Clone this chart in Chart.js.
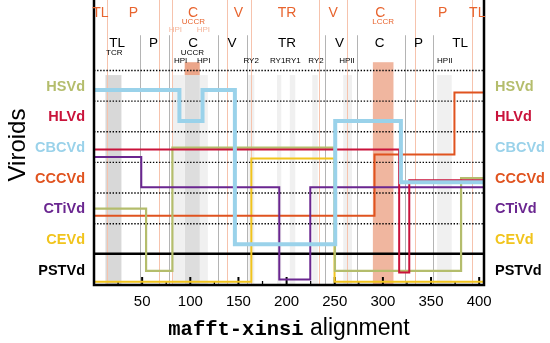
<!DOCTYPE html>
<html>
<head>
<meta charset="utf-8">
<script src="https://cdn.jsdelivr.net/npm/chart.js@4.4.0/dist/chart.umd.min.js"></script>
<style>
  html, body { margin: 0; padding: 0; background: #fff; }
</style>
</head>
<body>
<canvas id="chart" width="550" height="343"></canvas>
<script>
// rows, bottom to top
const viroids = ['PSTVd', 'CEVd', 'CTiVd', 'CCCVd', 'CBCVd', 'HLVd', 'HSVd'];
const viroidColors = {
  PSTVd: '#000000',
  CEVd: '#f1c41d',
  CTiVd: '#6a2690',
  CCCVd: '#e0531f',
  CBCVd: '#9ad2ea',
  HLVd: '#c9133b',
  HSVd: '#b4bd6c'
};

// step lines: breakpoints along the alignment, and the level held between them
const hsvdX = [0, 54.1, 81.4, 250.2, 381.2, 405];
const hsvdY = [1.99, -0.04, 3.98, -0.04, 2.99];
const hlvdX = [0, 316.9, 327.4, 405];
const hlvdY = [3.92, -0.09, 2.92];
const cbcvdX = [0, 88.7, 112.7, 146.3, 250.5, 318.7, 405];
const cbcvdY = [5.86, 4.85, 5.86, 0.83, 4.85, 2.85];
const cccvdX = [0, 291.3, 374.3, 405];
const cccvdY = [1.76, 3.76, 5.78];
const ctivdX = [0, 49.1, 192.4, 224.6, 405];
const ctivdY = [3.68, 2.69, -0.32, 2.69];
const cevdX = [0, 163.4, 249.8, 405];
const cevdY = [-0.39, 3.63, -0.39];
const pstvdX = [0, 405];
const pstvdY = [0.52];

const xTicks = [50, 100, 150, 200, 250, 300, 350, 400];
const xMinorTicks = [25, 75, 125, 175, 225, 275, 325, 375];

// region annotations above the rows
const outerRegions = ['TL', 'P', 'C', 'V', 'TR', 'V', 'C', 'P', 'TL'];
const outerRegionX = [6.7, 41, 102.9, 149.9, 200.4, 248.4, 297.2, 362.2, 398];
const outerBounds = [13.7, 67.9, 80.5, 138.2, 163.4, 233.2, 262.7, 333.5, 392.3];
const innerRegions = ['TL', 'P', 'C', 'V', 'TR', 'V', 'C', 'P', 'TL'];
const innerRegionX = [24.1, 61.7, 102.9, 143.4, 200.4, 255, 296.5, 337, 380.2];
const innerBounds = [47.5, 78.3, 128.6, 158.9, 239.4, 273, 323.1, 352.5];
const motifNames = ['TCR', 'UCCR', 'HPI', 'HPI', 'RY2', 'RY1RY1', 'RY2', 'HPII', 'HPII'];
const motifX = [21, 102.2, 90, 113.9, 163.2, 198.7, 230.6, 262.7, 364.3];
const outerMotifNames = ['UCCR', 'LCCR'];
const outerMotifX = [103.2, 300.3];
const paleMotifX = [84.5, 113.6];

// shaded motif spans
const tcrBand = [11.9, 28.5];
const uccrBand = [94.2, 109.8];
const lccrBand = [289.6, 311];
const paleBands = [[81.4, 93.9], [109.4, 118.2], [160.3, 166.5], [190, 194.5],
  [203.3, 209], [226.7, 232.4], [258.8, 267.9], [356.3, 371.5]];

const series = [
  { name: 'CBCVd', xs: cbcvdX, ys: cbcvdY, width: 4 },
  { name: 'HLVd', xs: hlvdX, ys: hlvdY, width: 2 },
  { name: 'CTiVd', xs: ctivdX, ys: ctivdY, width: 2 },
  { name: 'HSVd', xs: hsvdX, ys: hsvdY, width: 2.2 },
  { name: 'CCCVd', xs: cccvdX, ys: cccvdY, width: 2 },
  { name: 'CEVd', xs: cevdX, ys: cevdY, width: 2 },
  { name: 'PSTVd', xs: pstvdX, ys: pstvdY, width: 2.5 }
];

function stepPoints(xs, ys) {
  return xs.map((x, i) => ({ x: x, y: ys[Math.min(i, ys.length - 1)] }));
}

const SANS = '"Liberation Sans", Helvetica, Arial, sans-serif';

const backdrop = {
  id: 'backdrop',
  beforeDatasetsDraw(chart) {
    const { ctx, chartArea: a, scales: { x, y } } = chart;
    const px = v => x.getPixelForValue(v);
    const bandTop = y.getPixelForValue(6.35);
    const salmonTop = y.getPixelForValue(6.77);
    ctx.save();

    function band(r, top, bottom, color) {
      ctx.fillStyle = color;
      ctx.fillRect(px(r[0]), top, px(r[1]) - px(r[0]), bottom - top);
    }
    paleBands.forEach(r => band(r, bandTop, a.bottom, '#f0f0f0'));
    band(tcrBand, bandTop, a.bottom, '#d8d8d8');
    band(uccrBand, bandTop, a.bottom, '#dddddd');
    band(uccrBand, salmonTop, bandTop, '#eba68a');
    band(lccrBand, salmonTop, a.bottom, '#f0b69f');

    // outer (orange) region bounds, full height
    ctx.strokeStyle = '#f6c3ad';
    ctx.lineWidth = 1;
    outerBounds.forEach(v => {
      ctx.beginPath();
      ctx.moveTo(Math.round(px(v)) + 0.5, a.top);
      ctx.lineTo(Math.round(px(v)) + 0.5, a.bottom);
      ctx.stroke();
    });
    // inner (black) region bounds
    ctx.strokeStyle = '#b4b4b4';
    const gTop = y.getPixelForValue(7.65);
    innerBounds.forEach(v => {
      ctx.beginPath();
      ctx.moveTo(Math.round(px(v)) + 0.5, gTop);
      ctx.lineTo(Math.round(px(v)) + 0.5, a.bottom);
      ctx.stroke();
    });

    // dotted row separators
    ctx.strokeStyle = '#000';
    ctx.lineWidth = 1.4;
    ctx.setLineDash([1.4, 1.7]);
    viroids.forEach((v, i) => {
      const yy = y.getPixelForValue(i + 0.5);
      ctx.beginPath();
      ctx.moveTo(a.left, yy);
      ctx.lineTo(a.right, yy);
      ctx.stroke();
    });
    ctx.setLineDash([]);

    // tick marks pointing into the plot
    ctx.lineWidth = 2;
    xTicks.forEach(v => {
      ctx.beginPath();
      ctx.moveTo(px(v), a.bottom);
      ctx.lineTo(px(v), a.bottom - 8);
      ctx.stroke();
    });
    ctx.lineWidth = 1.3;
    xMinorTicks.forEach(v => {
      ctx.beginPath();
      ctx.moveTo(px(v), a.bottom);
      ctx.lineTo(px(v), a.bottom - 4);
      ctx.stroke();
    });
    ctx.restore();
  },
  afterDatasetsDraw(chart) {
    const { ctx, chartArea: a, scales: { x, y } } = chart;
    const px = v => x.getPixelForValue(v);
    ctx.save();

    // frame
    ctx.strokeStyle = '#000';
    ctx.lineWidth = 2.5;
    ctx.beginPath();
    ctx.moveTo(a.left, a.top);
    ctx.lineTo(a.left, a.bottom);
    ctx.lineTo(a.right, a.bottom);
    ctx.lineTo(a.right, a.top);
    ctx.stroke();

    // region names
    ctx.textAlign = 'center';
    ctx.textBaseline = 'middle';
    ctx.fillStyle = '#e8642e';
    ctx.font = '14px ' + SANS;
    outerRegions.forEach((t, i) => ctx.fillText(t, px(outerRegionX[i]), a.top + 13));
    ctx.font = '8px ' + SANS;
    outerMotifNames.forEach((t, i) => ctx.fillText(t, px(outerMotifX[i]), a.top + 22));
    ctx.fillStyle = '#f5b59b';
    paleMotifX.forEach(v => ctx.fillText('HPI', px(v), a.top + 29.5));

    ctx.fillStyle = '#000';
    ctx.font = '13.5px ' + SANS;
    innerRegions.forEach((t, i) => ctx.fillText(t, px(innerRegionX[i]), a.top + 43));
    ctx.font = '8px ' + SANS;
    motifNames.forEach((t, i) => {
      const yy = (t === 'TCR' || t === 'UCCR') ? 53 : 61;
      ctx.fillText(t, px(motifX[i]), a.top + yy);
    });

    // row names on both sides
    ctx.font = 'bold 14.5px ' + SANS;
    viroids.forEach((name, i) => {
      const yy = y.getPixelForValue(i) + 1;
      ctx.fillStyle = viroidColors[name];
      ctx.textAlign = 'right';
      ctx.fillText(name, a.left - 9, yy);
      ctx.textAlign = 'left';
      ctx.fillText(name, a.right + 11, yy);
    });

    // axis titles
    ctx.fillStyle = '#000';
    ctx.textBaseline = 'alphabetic';
    const mono = 'mafft-xinsi';
    const rest = ' alignment';
    const monoFont = 'bold 20.5px "Liberation Mono", "Courier New", monospace';
    const sansFont = '23px ' + SANS;
    ctx.font = monoFont;
    const w1 = ctx.measureText(mono).width;
    ctx.font = sansFont;
    const w2 = ctx.measureText(rest).width;
    let sx = (a.left + a.right) / 2 - (w1 + w2) / 2;
    ctx.textAlign = 'left';
    ctx.font = monoFont;
    ctx.fillText(mono, sx, a.bottom + 50);
    ctx.font = sansFont;
    ctx.fillText(rest, sx + w1, a.bottom + 50);

    ctx.save();
    ctx.translate(25, 145);
    ctx.rotate(-Math.PI / 2);
    ctx.textAlign = 'center';
    ctx.font = '24px ' + SANS;
    ctx.fillText('Viroids', 0, 0);
    ctx.restore();

    ctx.restore();
  }
};

const chart = new Chart(document.getElementById('chart'), {
  type: 'line',
  data: {
    datasets: series.map(s => ({
      label: s.name,
      data: stepPoints(s.xs, s.ys),
      borderColor: viroidColors[s.name],
      borderWidth: s.width,
      stepped: 'before',
      pointRadius: 0,
      fill: false,
      borderJoinStyle: 'miter',
      borderCapStyle: 'butt'
    }))
  },
  options: {
    responsive: false,
    animation: false,
    layout: { padding: { left: 94, right: 66, top: 0, bottom: 24 } },
    plugins: { legend: { display: false }, tooltip: { enabled: false } },
    scales: {
      x: {
        type: 'linear',
        min: 0,
        max: 405,
        afterBuildTicks: scale => { scale.ticks = xTicks.map(v => ({ value: v })); },
        grid: { display: false, drawTicks: false },
        border: { display: false },
        ticks: {
          autoSkip: false,
          maxRotation: 0,
          padding: 8,
          color: '#000',
          font: { family: SANS, size: 15 }
        }
      },
      y: {
        type: 'linear',
        display: false,
        min: -0.5,
        max: 8.8
      }
    }
  },
  plugins: [backdrop]
});
</script>
</body>
</html>
